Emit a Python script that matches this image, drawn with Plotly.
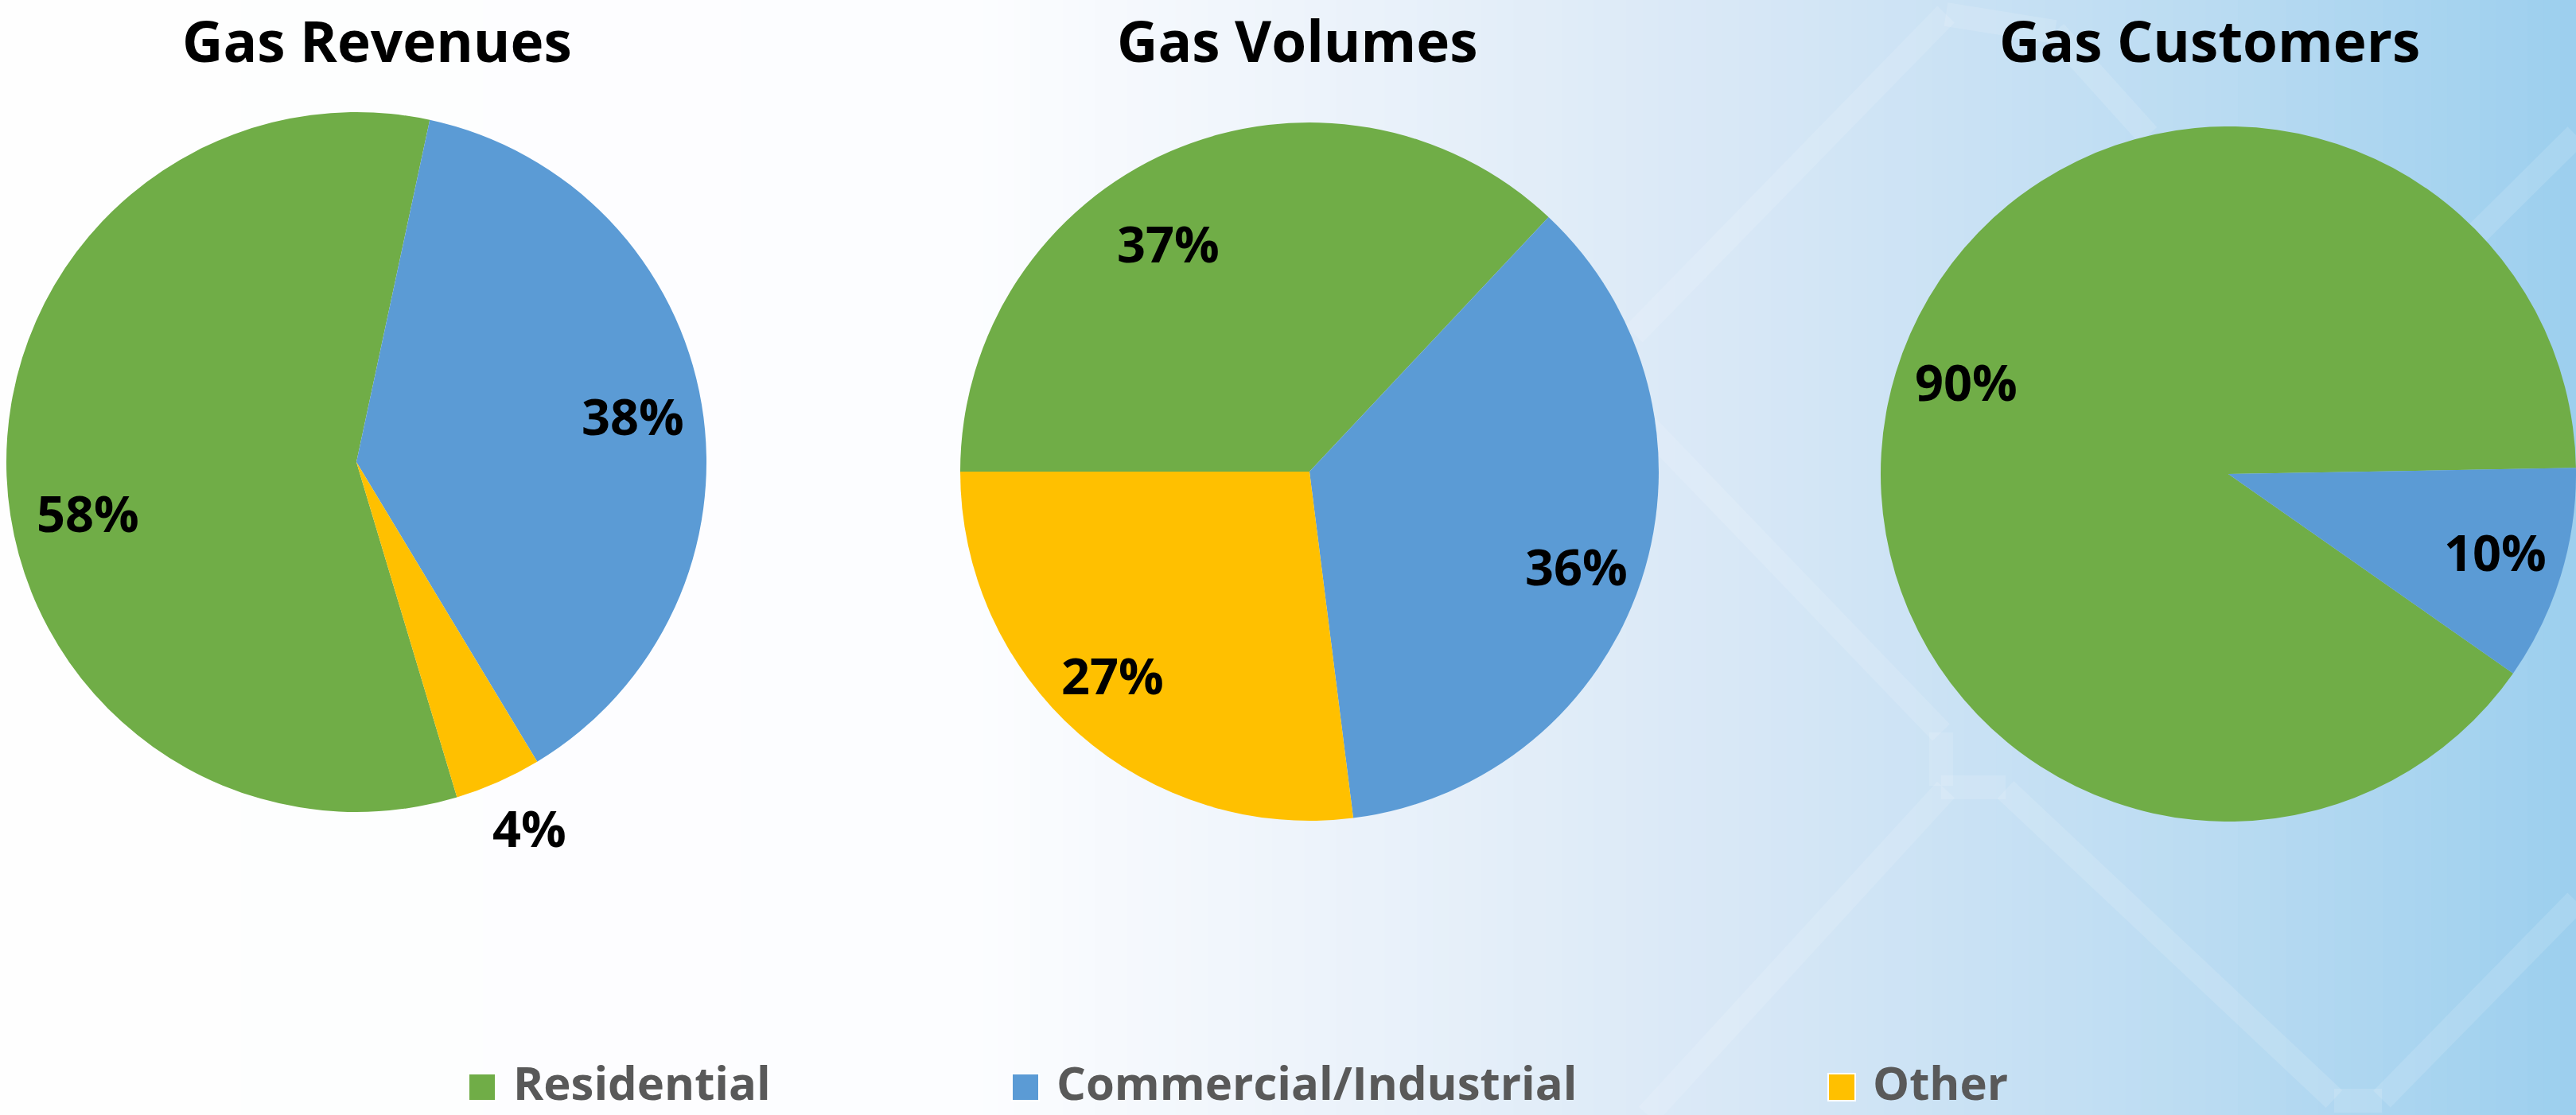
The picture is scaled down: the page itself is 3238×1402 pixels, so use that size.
import math
import plotly.graph_objects as go

# ---------------- data ----------------
categories = ["Residential", "Commercial/Industrial", "Other"]
colors = ["#70AD47", "#5B9BD5", "#FFC000"]

chart_titles = ["Gas Revenues", "Gas Volumes", "Gas Customers"]
revenues = [58, 38, 4]
volumes = [37, 36, 27]
customers = [90, 10]
series = [revenues, volumes, customers]

# ---------------- layout constants ----------------
W, H = 3238, 1402
pie_centers = [(448, 581), (1646, 593), (2801, 596)]
pie_radius = [440, 439, 437]
pie_rotation = [163.3, -90, 125]          # start angle of first slice, clockwise from 12 o'clock
# data-label placement: fraction of radius and angular nudge (deg) from the slice bisector
label_radius = [[0.78, 0.80, 1.155], [0.77, 0.81, 0.81], [0.80, 0.80]]
label_nudge = [[-8.3, 0.0, -1.4], [-8.2, 1.4, 2.6], [2.4, -0.8]]
title_x = [474, 1630, 2777]
FONT = "Open Sans"

fig = go.Figure()

# background gradient (white on the left, light blue on the right)
stops = [(0.0, (254, 254, 254)), (0.38, (252, 253, 255)), (0.50, (238, 244, 251)),
         (0.68, (215, 231, 246)), (0.85, (188, 220, 242)), (1.0, (156, 207, 238))]


def grad(t):
    for (t0, c0), (t1, c1) in zip(stops[:-1], stops[1:]):
        if t0 <= t <= t1:
            f = (t - t0) / (t1 - t0) if t1 > t0 else 0
            return tuple(round(a + (b - a) * f) for a, b in zip(c0, c1))
    return stops[-1][1]


shapes = []
N = 160
for i in range(N):
    t = (i + 0.5) / N
    c = grad(t)
    shapes.append(dict(type="rect", xref="paper", yref="paper", x0=i / N, x1=(i + 1) / N + 0.001,
                       y0=0, y1=1, line=dict(width=0), fillcolor=f"rgb{c}", layer="below"))

# faint honeycomb lines in the background
hex_lines = [((2054, 420), (2446, 18)), ((2446, 18), (2583, 40)), ((2583, 40), (2700, 170)),
             ((2071, 537), (2440, 921)), ((2440, 921), (2440, 988)), ((2440, 990), (2521, 990)),
             ((2446, 993), (2071, 1402)), ((2521, 993), (2934, 1382)), ((2934, 1384), (2994, 1384)),
             ((2994, 1382), (3238, 1133)), ((3112, 295), (3238, 170))]
for (x0, y0), (x1, y1) in hex_lines:
    shapes.append(dict(type="line", xref="paper", yref="paper", x0=x0 / W, y0=1 - y0 / H,
                       x1=x1 / W, y1=1 - y1 / H, line=dict(color="rgba(255,255,255,0.13)", width=30),
                       layer="below"))

annotations = []
for k, vals in enumerate(series):
    cx, cy = pie_centers[k]
    r = pie_radius[k]
    labs = categories[:len(vals)]
    fig.add_trace(go.Pie(
        labels=labs, values=vals, sort=False, direction="clockwise", rotation=pie_rotation[k],
        marker=dict(colors=colors[:len(vals)], line=dict(width=0)),
        textinfo="none", hoverinfo="label+percent", showlegend=False,
        domain=dict(x=[(cx - r) / W, min(1, (cx + r) / W)], y=[1 - (cy + r) / H, 1 - (cy - r) / H]),
    ))
    total = sum(vals)
    start = pie_rotation[k]
    for j, v in enumerate(vals):
        mid = math.radians(start + 360 * (v / 2) / total + label_nudge[k][j])
        start += 360 * v / total
        rr = label_radius[k][j] * r
        px = cx + rr * math.sin(mid)
        py = cy - rr * math.cos(mid)
        annotations.append(dict(x=px / W, y=1 - py / H, xref="paper", yref="paper",
                                text=f"<b>{round(100 * v / total)}%</b>", showarrow=False,
                                xanchor="center", yanchor="middle",
                                font=dict(family=FONT, size=63, color="black")))
    annotations.append(dict(x=title_x[k] / W, y=1, xref="paper", yref="paper",
                            text=f"<b>{chart_titles[k]}</b>", showarrow=False,
                            xanchor="center", yanchor="top",
                            font=dict(family=FONT, size=71, color="black")))

# legend (large square swatches)
legend_sq_x = [589, 1272, 2298]
legend_sq_y = 1367
sq = 34
for name, col, x in zip(categories, colors, legend_sq_x):
    shapes.append(dict(type="rect", xref="paper", yref="paper", x0=x / W, x1=(x + sq) / W,
                       y0=1 - (legend_sq_y + sq / 2) / H, y1=1 - (legend_sq_y - sq / 2) / H,
                       fillcolor=col, line=dict(color="white", width=2), layer="above"))
    annotations.append(dict(x=(x + sq + 20) / W, y=0, xref="paper", yref="paper",
                            text=f"<b>{name}</b>", showarrow=False, xanchor="left", yanchor="bottom",
                            font=dict(family=FONT, size=58, color="#595959")))

fig.update_layout(
    width=W, height=H, margin=dict(l=0, r=0, t=0, b=0),
    paper_bgcolor="white", plot_bgcolor="white",
    shapes=shapes, annotations=annotations, showlegend=False,
)

fig.write_html("out.html")
